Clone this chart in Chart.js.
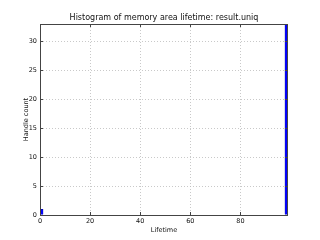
<!DOCTYPE html>
<html><head><meta charset="utf-8">
<script src="https://cdn.jsdelivr.net/npm/chart.js@4/dist/chart.umd.min.js"></script>
<style>html,body{margin:0;padding:0;background:#fff}#wrap{width:320px;height:240px}</style>
</head><body><div id="wrap"><canvas id="c" width="320" height="240"></canvas></div>
<script>
const lifetimes = [0.62, 98.38];
const counts = [1, 33];
const xTicks = [0, 20, 40, 60, 80];
const yTicks = [0, 5, 10, 15, 20, 25, 30];
const titleText = "Histogram of memory area lifetime: result.uniq";
const xLabel = "Lifetime";
const yLabel = "Handle count";

const FONT = "DejaVu Sans";
const boxPlugin = {
  id: 'box',
  afterDraw(chart) {
    const ctx = chart.ctx, a = chart.chartArea;
    const xs = chart.scales.x, ys = chart.scales.y;
    ctx.save();
    ctx.strokeStyle = '#444';
    ctx.lineWidth = 1;
    ctx.strokeRect(Math.round(a.left) + 0.5, Math.round(a.top) + 0.5, Math.round(a.right - a.left) - 1, Math.round(a.bottom - a.top));
    xTicks.forEach(v => {
      const px = Math.round(xs.getPixelForValue(v)) + 0.5;
      ctx.beginPath(); ctx.moveTo(px, a.bottom); ctx.lineTo(px, a.bottom - 3);
      ctx.moveTo(px, a.top); ctx.lineTo(px, a.top + 3); ctx.stroke();
    });
    yTicks.forEach(v => {
      const py = Math.round(ys.getPixelForValue(v)) + 0.5;
      ctx.beginPath(); ctx.moveTo(a.left, py); ctx.lineTo(a.left + 3, py);
      ctx.moveTo(a.right, py); ctx.lineTo(a.right - 3, py); ctx.stroke();
    });
    ctx.fillStyle = '#111';
    ctx.font = '8px "' + FONT + '"';
    ctx.textAlign = 'center';
    ctx.textBaseline = 'alphabetic';
    ctx.fillText(titleText, (a.left + a.right) / 2, 20);
    ctx.font = '6.5px "' + FONT + '"';
    ctx.fillText(xLabel, (a.left + a.right) / 2, 232);
    ctx.save();
    ctx.translate(28, (a.top + a.bottom) / 2);
    ctx.rotate(-Math.PI / 2);
    ctx.fillText(yLabel, 0, 0);
    ctx.restore();
    ctx.restore();
  }
};

new Chart(document.getElementById('c'), {
  type: 'bar',
  data: {
    datasets: [{
      data: lifetimes.map((x, i) => ({ x: x, y: counts[i] })),
      backgroundColor: '#0000ff',
      borderColor: '#000080',
      borderWidth: 0.5,
      barThickness: 3
    }]
  },
  options: {
    responsive: false,
    animation: false,
    devicePixelRatio: 1,
    layout: { padding: { top: 24, right: 32, left: 0, bottom: 0 } },
    plugins: { legend: { display: false }, title: { display: false }, tooltip: { enabled: false } },
    scales: {
      x: {
        type: 'linear', min: 0, max: 99, offset: false,
        afterBuildTicks: s => { s.ticks = xTicks.map(v => ({ value: v })); },
        afterFit: s => { s.height = 25; },
        grid: { color: '#bbbbbb', drawTicks: false, lineWidth: 0.8, offset: false },
        border: { display: false, dash: [1, 2] },
        ticks: { font: { family: FONT, size: 6.5 }, color: '#111', padding: 2, maxRotation: 0 }
      },
      y: {
        min: 0, max: 33,
        afterBuildTicks: s => { s.ticks = yTicks.map(v => ({ value: v })); },
        afterFit: s => { s.width = 40; },
        grid: { color: '#bbbbbb', drawTicks: false, lineWidth: 0.8 },
        border: { display: false, dash: [1, 2] },
        ticks: { font: { family: FONT, size: 6.5 }, color: '#111', padding: 3 }
      }
    }
  },
  plugins: [boxPlugin]
});
</script></body></html>
